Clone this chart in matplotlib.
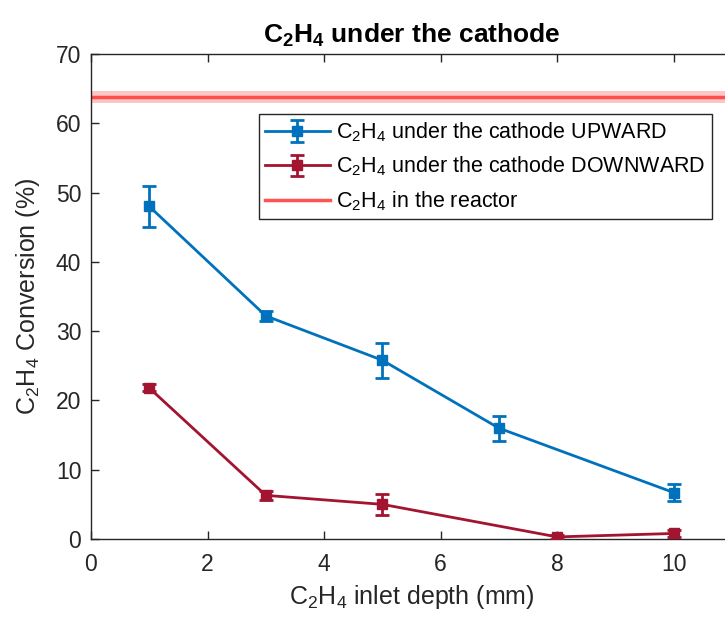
import numpy as np
import matplotlib
matplotlib.use('Agg')
from matplotlib import pyplot as plt

plt.rcParams['font.family'] = ['Liberation Sans', 'DejaVu Sans']
plt.rcParams['mathtext.default'] = 'regular'

# inlet depth (mm) and conversion (%) with error bars
depth_up = [1, 3, 5, 7, 10]
conv_up = [48.0, 32.2, 25.8, 16.0, 6.7]
err_up = [3.0, 0.7, 2.5, 1.8, 1.2]

depth_down = [1, 3, 5, 8, 10]
conv_down = [21.8, 6.3, 5.0, 0.3, 0.8]
err_down = [0.5, 0.7, 1.5, 0.3, 0.5]

reactor_conv = 63.8
reactor_err = 0.9

BLUE = '#0072BD'
DARKRED = '#A2142F'
RED = '#FF4040'
GREY = '#262626'

fig = plt.figure(figsize=(7.25, 6.19), dpi=100)
ax = fig.add_axes([91/725, 80/619, 641/725, 485/619])

ax.axhspan(reactor_conv - reactor_err, reactor_conv + reactor_err,
           color=RED, alpha=0.3, lw=0, zorder=1)
ax.axhline(reactor_conv, color=RED, lw=2.5, alpha=0.9, zorder=2,
           label='C$_2$H$_4$ in the reactor')

ax.errorbar(depth_up, conv_up, yerr=err_up, color=BLUE, lw=2, marker='s',
            ms=7, capsize=5, capthick=2, elinewidth=2, zorder=3,
            label='C$_2$H$_4$ under the cathode UPWARD')
ax.errorbar(depth_down, conv_down, yerr=err_down, color=DARKRED, lw=2, marker='s',
            ms=7, capsize=5, capthick=2, elinewidth=2, zorder=3,
            label='C$_2$H$_4$ under the cathode DOWNWARD')

ax.set_xlim(0, 11)
ax.set_ylim(0, 70)
ax.set_xticks([0, 2, 4, 6, 8, 10])
ax.set_yticks(np.arange(0, 71, 10))
ax.tick_params(direction='in', length=6, width=1, top=True, right=False,
               labelsize=16.5, colors=GREY)
ax.tick_params(axis='x', pad=10)
ax.tick_params(axis='y', pad=7)
for s in ax.spines.values():
    s.set_color(GREY)
    s.set_linewidth(1)

ax.set_xlabel('C$_2$H$_4$ inlet depth (mm)', fontsize=18, color=GREY, labelpad=5)
ax.set_ylabel('C$_2$H$_4$ Conversion (%)', fontsize=18, color=GREY, labelpad=10)
ax.set_title('C$_2$H$_4$ under the cathode', fontsize=19, fontweight='bold', pad=8)

h, l = ax.get_legend_handles_labels()
order = [1, 2, 0]
leg = ax.legend([h[i] for i in order], [l[i] for i in order],
                loc='upper right', bbox_to_anchor=(712/725, 1 - 114/619),
                bbox_transform=fig.transFigure, fontsize=15.5, frameon=True,
                fancybox=False, edgecolor=GREY, framealpha=1,
                handlelength=3.0, handletextpad=0.3, borderpad=0.3,
                labelspacing=0.5, borderaxespad=0)
leg.get_frame().set_linewidth(1)

fig.savefig('out.png', dpi=100)
